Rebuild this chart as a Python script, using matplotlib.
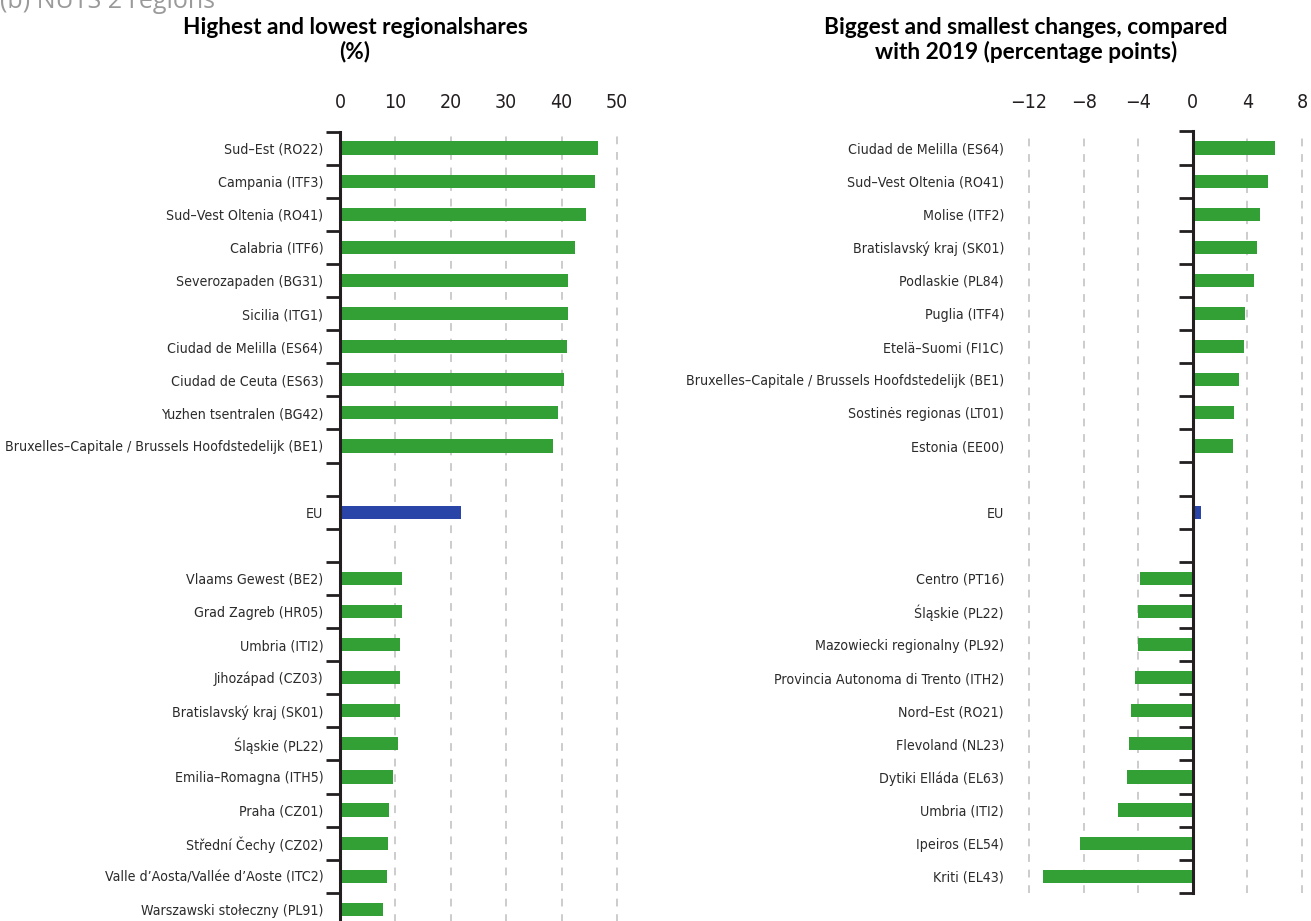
import numpy as np
import matplotlib
matplotlib.use("Agg")
import matplotlib.pyplot as plt
from matplotlib import font_manager as fm
from matplotlib.ticker import FixedLocator

# regional shares (%)
share_top = ["Sud–Est (RO22)", "Campania (ITF3)", "Sud–Vest Oltenia (RO41)", "Calabria (ITF6)",
             "Severozapaden (BG31)", "Sicilia (ITG1)", "Ciudad de Melilla (ES64)",
             "Ciudad de Ceuta (ES63)", "Yuzhen tsentralen (BG42)",
             "Bruxelles–Capitale / Brussels Hoofdstedelijk (BE1)"]
share_top_vals = [46.6, 46.0, 44.4, 42.5, 41.1, 41.1, 41.0, 40.4, 39.4, 38.5]
share_bottom = ["Vlaams Gewest (BE2)", "Grad Zagreb (HR05)", "Umbria (ITI2)", "Jihozápad (CZ03)",
                "Bratislavský kraj (SK01)", "Śląskie (PL22)", "Emilia–Romagna (ITH5)",
                "Praha (CZ01)", "Střední Čechy (CZ02)", "Valle d’Aosta/Vallée d’Aoste (ITC2)",
                "Warszawski stołeczny (PL91)"]
share_bottom_vals = [11.1, 11.1, 10.9, 10.8, 10.8, 10.5, 9.5, 8.9, 8.7, 8.5, 7.7]
share_eu = 21.8

# change compared with 2019 (percentage points)
change_top = ["Ciudad de Melilla (ES64)", "Sud–Vest Oltenia (RO41)", "Molise (ITF2)",
              "Bratislavský kraj (SK01)", "Podlaskie (PL84)", "Puglia (ITF4)",
              "Etelä–Suomi (FI1C)", "Bruxelles–Capitale / Brussels Hoofdstedelijk (BE1)",
              "Sostinės regionas (LT01)", "Estonia (EE00)"]
change_top_vals = [6.0, 5.5, 4.9, 4.7, 4.5, 3.8, 3.75, 3.4, 3.0, 2.95]
change_bottom = ["Centro (PT16)", "Śląskie (PL22)", "Mazowiecki regionalny (PL92)",
                 "Provincia Autonoma di Trento (ITH2)", "Nord–Est (RO21)", "Flevoland (NL23)",
                 "Dytiki Elláda (EL63)", "Umbria (ITI2)", "Ipeiros (EL54)", "Kriti (EL43)"]
change_bottom_vals = [-3.9, -4.0, -4.0, -4.2, -4.5, -4.7, -4.8, -5.5, -8.3, -11.0]
change_eu = 0.6

GREEN = "#33a036"
BLUE = "#2a45a8"
DARK = "#231f20"
GRID = "#cccccc"

# pick the narrowest sans available for the region names
fonts = fm.fontManager.ttflist
names = {f.name for f in fonts}
if "Liberation Sans Narrow" in names:
    NARROW = dict(family="Liberation Sans Narrow", stretch="normal")
elif any(f.name == "DejaVu Sans" and "condensed" in str(f.stretch) for f in fonts):
    NARROW = dict(family="DejaVu Sans", stretch="condensed")
else:
    NARROW = dict(family="Roboto", stretch="normal")

W, H = 1311, 921
fig = plt.figure(figsize=(W / 100, H / 100), dpi=100)
renderer = fig.canvas.get_renderer()

# size the labels so the longest name takes ~316 px
probe = fig.text(0, 0, share_top[-1], fontsize=10, **NARROW)
LABEL_SIZE = min(13.5, 10 * 316 / probe.get_window_extent(renderer).width)
probe.remove()

ROW = 33.1
TOP = 131.5


def build(top, top_vals, eu, bottom, bottom_vals):
    labels = top + ["", "EU", ""] + bottom
    vals = top_vals + [np.nan, eu, np.nan] + bottom_vals
    colors = [GREEN] * len(top) + [GREEN, BLUE, GREEN] + [GREEN] * len(bottom)
    return labels, vals, colors


def panel(x0, x1, xmin, xmax, ticks, tick_labels, labels, vals, colors, label_pad):
    n = len(labels)
    h = n * ROW
    ax = fig.add_axes([x0 / W, 1 - (TOP + h) / H, (x1 - x0) / W, h / H])
    y = np.arange(n)
    ax.barh(y, vals, height=0.4, color=colors, zorder=3)
    ax.set_xlim(xmin, xmax)
    ax.set_ylim(n - 0.5, -0.5)

    for s in ["top", "right", "bottom"]:
        ax.spines[s].set_visible(False)
    ax.spines["left"].set_position(("data", 0))
    ax.spines["left"].set_linewidth(2.2)
    ax.spines["left"].set_color(DARK)
    ax.spines["left"].set_zorder(4)

    ax.set_yticks(y)
    ax.set_yticklabels(labels, fontsize=LABEL_SIZE, color="#2b2b2b", **NARROW)
    ax.yaxis.set_minor_locator(FixedLocator(np.arange(n + 1) - 0.5))
    ax.tick_params(axis="y", which="major", length=0, pad=label_pad)
    ax.tick_params(axis="y", which="minor", length=10, width=2, color=DARK, direction="out")

    ax.xaxis.tick_top()
    ax.set_xticks(ticks)
    ax.set_xticklabels(tick_labels, fontsize=14, color=DARK, **NARROW)
    ax.tick_params(axis="x", length=0, pad=14)
    for t in ticks:
        if t != 0:
            ax.axvline(t, color=GRID, lw=1.4, dashes=(4, 4), zorder=1)
    return ax


labels, vals, colors = build(share_top, share_top_vals, share_eu, share_bottom, share_bottom_vals)
axl = panel(340, 618.7, 0, 50, [0, 10, 20, 30, 40, 50],
            ["0", "10", "20", "30", "40", "50"], labels, vals, colors, 12)
axl.set_xlim(0, 50.3)

labels, vals, colors = build(change_top, change_top_vals, change_eu, change_bottom, change_bottom_vals)
axr = panel(1027.7, 1303.3, -12, 8, [-12, -8, -4, 0, 4, 8],
            ["−12", "−8", "−4", "0", "4", "8"], labels, vals, colors, 136)
axr.set_xlim(-12.1, 8.1)

fig.text(355 / W, 1 - 40 / H, "Highest and lowest regionalshares\n(%)", ha="center", va="center",
         fontsize=16.3, fontweight="bold", family=["Lato", "DejaVu Sans"], linespacing=1.15)
fig.text(1026 / W, 1 - 40 / H, "Biggest and smallest changes, compared\nwith 2019 (percentage points)",
         ha="center", va="center", fontsize=16.3, fontweight="bold", family=["Lato", "DejaVu Sans"],
         linespacing=1.15)
# sub-heading sits partly above the top edge
fig.text(0, 1 - 8 / H, "(b) NUTS 2 regions", ha="left", va="baseline", fontsize=18,
         color="#9a9a9a", family=["Open Sans", "DejaVu Sans"])

fig.savefig("out.png", dpi=100)
